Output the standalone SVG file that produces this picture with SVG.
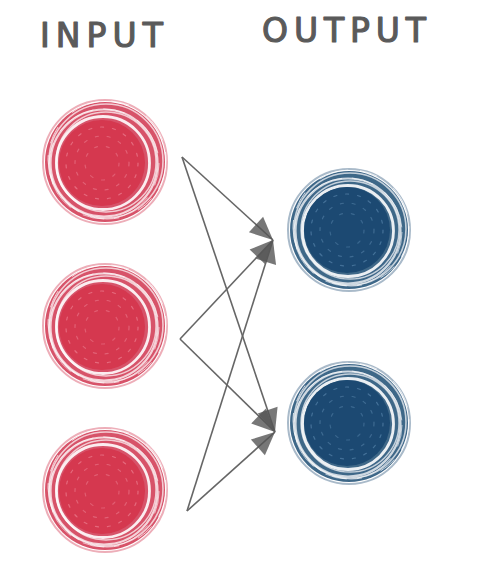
<svg xmlns="http://www.w3.org/2000/svg" xmlns:xlink="http://www.w3.org/1999/xlink" width="499" height="585" viewBox="0 0 499 585">
<style>
.title{font-family:"DejaVu Sans","Liberation Sans",sans-serif;font-size:33px;fill:#5a5a5a;stroke:#5a5a5a;stroke-width:1.2;stroke-linejoin:round;}
.link{stroke:#666;stroke-width:1.6;fill:none;marker-end:url(#arrow);}
.wg{fill:none;stroke:#fff;}
.fleck{fill:none;stroke-dasharray:3 9;stroke-linecap:round;}
</style>
<defs>
<filter id="soft" x="-10%" y="-10%" width="120%" height="120%">
<feGaussianBlur stdDeviation="0.6"/>
</filter>
<marker id="arrow" markerUnits="userSpaceOnUse" markerWidth="24" markerHeight="21" refX="23" refY="10.5" orient="auto" overflow="visible">
<path d="M0,0 L23,10.5 L0,21 Z" fill="#555" fill-opacity="0.8"/>
</marker>
<g id="redBall" filter="url(#soft)">
<circle r="62" fill="none" stroke="#d84a62" stroke-width="2" opacity="0.45"/>
<circle r="60" fill="#d3405a" opacity="0.9"/>
<circle cx="1" cy="-1" r="57" class="wg" stroke-width="1.6" opacity="0.7"/>
<circle cx="-1" cy="1" r="53.5" class="wg" stroke-width="2.2" opacity="0.75"/>
<circle cx="1" cy="0" r="50" class="wg" stroke-width="1.4" opacity="0.7"/>
<circle cx="-2" cy="1" r="46.5" class="wg" stroke-width="2.8" opacity="0.9"/>
<circle cx="2" cy="-2" r="59" class="wg" stroke-width="1" stroke-dasharray="30 12 18 20" opacity="0.7"/>
<circle cx="-1" cy="2" r="55" class="wg" stroke-width="1" stroke-dasharray="22 14 40 10" opacity="0.6"/>
<circle cx="-3" cy="1" r="43" fill="#d5384f"/>
<circle cx="-3" cy="1" r="36" class="fleck" stroke="#f08a9b" stroke-width="1.2" opacity="0.6"/>
<circle cx="-3" cy="1" r="27" class="fleck" stroke="#f08a9b" stroke-width="1.2" opacity="0.5"/>
<circle cx="-3" cy="1" r="17" class="fleck" stroke="#f08a9b" stroke-width="1.2" opacity="0.45"/>
</g>
<g id="blueBall" filter="url(#soft)">
<circle r="61" fill="none" stroke="#3d6488" stroke-width="2" opacity="0.45"/>
<circle r="59" fill="#2a567c" opacity="0.9"/>
<circle cx="1" cy="-1" r="56" class="wg" stroke-width="1.6" opacity="0.7"/>
<circle cx="-1" cy="1" r="52.5" class="wg" stroke-width="2.2" opacity="0.75"/>
<circle cx="1" cy="0" r="49" class="wg" stroke-width="1.4" opacity="0.7"/>
<circle cx="-1" cy="1" r="45.5" class="wg" stroke-width="2.8" opacity="0.9"/>
<circle cx="2" cy="-2" r="58" class="wg" stroke-width="1" stroke-dasharray="30 12 18 20" opacity="0.7"/>
<circle cx="-1" cy="2" r="54" class="wg" stroke-width="1" stroke-dasharray="22 14 40 10" opacity="0.6"/>
<circle cx="-2" cy="0" r="43" fill="#1d4a72"/>
<circle cx="-2" cy="0" r="36" class="fleck" stroke="#5d8ab2" stroke-width="1.2" opacity="0.6"/>
<circle cx="-2" cy="0" r="27" class="fleck" stroke="#5d8ab2" stroke-width="1.2" opacity="0.5"/>
<circle cx="-2" cy="0" r="17" class="fleck" stroke="#5d8ab2" stroke-width="1.2" opacity="0.45"/>
</g>
</defs>
<rect width="499" height="585" fill="#fff"/>
<g id="labels">
<text class="title" x="40" y="47" textLength="123" lengthAdjust="spacing">INPUT</text>
<text class="title" x="262" y="42" textLength="164" lengthAdjust="spacing">OUTPUT</text>
</g>
<g id="input1" transform="translate(105,162)"><use xlink:href="#redBall"/></g>
<g id="input2" transform="translate(105,326)"><use xlink:href="#redBall"/></g>
<g id="input3" transform="translate(105,490)"><use xlink:href="#redBall"/></g>
<g id="output1" transform="translate(349,230)"><use xlink:href="#blueBall"/></g>
<g id="output2" transform="translate(349,423)"><use xlink:href="#blueBall"/></g>
<g id="connectors">
<line class="link" x1="182" y1="157" x2="273" y2="240"/>
<line class="link" x1="182" y1="157" x2="275" y2="432"/>
<line class="link" x1="180" y1="339" x2="273" y2="240"/>
<line class="link" x1="180" y1="339" x2="275" y2="432"/>
<line class="link" x1="187" y1="511" x2="273" y2="240"/>
<line class="link" x1="187" y1="511" x2="275" y2="432"/>
</g>
</svg>
